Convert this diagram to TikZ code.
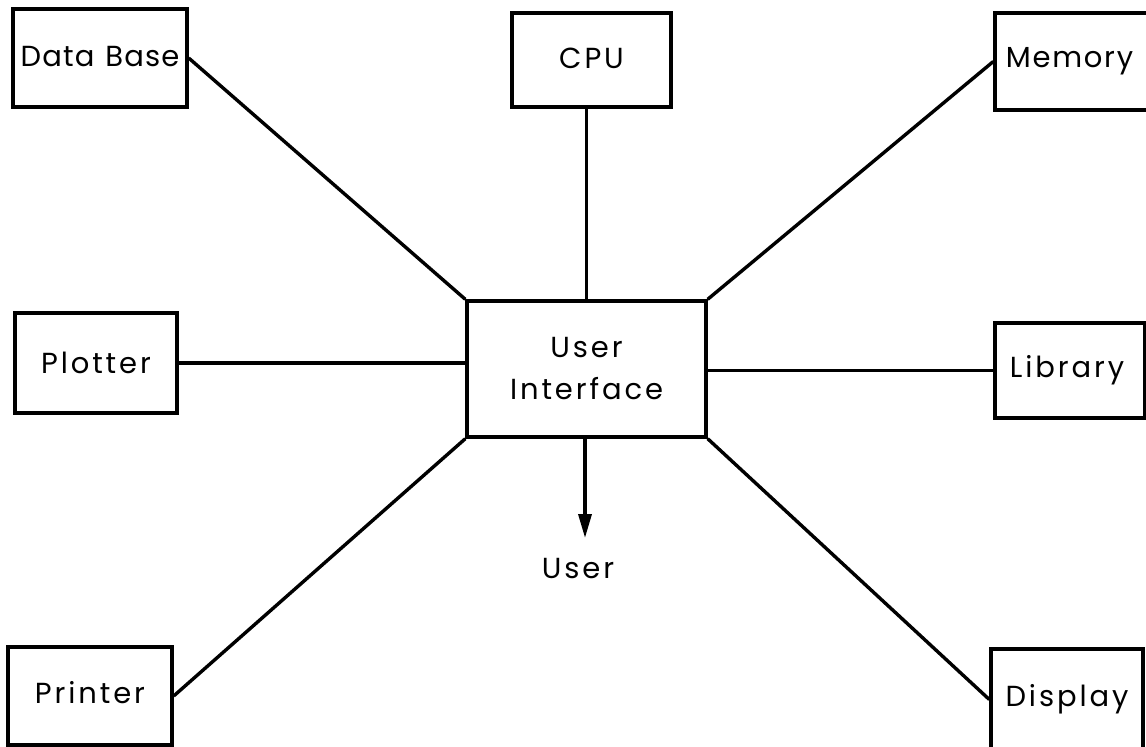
\documentclass[tikz,border=0pt]{standalone}
\usepackage{fontspec}
\newfontfamily\lettering[LetterSpace=10]{Poppins}
\usetikzlibrary{arrows.meta}
\tikzset{
  unit/.style={draw, line width=3.4pt, rectangle, inner sep=0pt, align=center,
    font=\lettering\fontsize{29}{40}\selectfont},
  link/.style={line width=3.4pt},
}
\begin{document}
\begin{tikzpicture}[x=1pt, y=-1pt]
  \useasboundingbox (0,0) rectangle (1146,747);
  \clip (0,0) rectangle (1146,747);

  % central hub
  \node[unit, minimum width=239pt, minimum height=136pt] (ui) at (586.5,369) {User\\[2pt]Interface};

  % surrounding units
  \node[unit, minimum width=174pt, minimum height=98pt]  (db)   at (100,58)     {\raisebox{3pt}{\addfontfeature{LetterSpace=4}Data\hskip 11pt Base}};
  \node[unit, minimum width=159pt, minimum height=94pt]  (cpu)  at (591.5,60)   {\raisebox{4pt}{CPU}};
  \node[unit, minimum width=155pt, minimum height=97pt]  (mem)  at (1072.5,61.5) {\hspace*{-6pt}{\addfontfeature{LetterSpace=6}Memory}};
  \node[unit, minimum width=162pt, minimum height=100pt] (plot) at (96,363)     {Plotter};
  \node[unit, minimum width=150pt, minimum height=95pt]  (lib)  at (1070,370.5) {\hspace*{-6pt}Library};
  \node[unit, minimum width=164pt, minimum height=98pt]  (prn)  at (90,696)     {\raisebox{7pt}{Printer}};
  \node[unit, minimum width=152pt, minimum height=101pt] (disp) at (1067,699.5) {\raisebox{3pt}{Display}};

  % output label and arrow tip
  \node[font=\lettering\fontsize{29}{40}\selectfont] (usr) at (578,569) {User};
  \coordinate (tip) at (585,538);

  % spokes
  \draw[link] (db.east)   -- (ui.north west);
  \draw[link] (cpu.south -| ui.north) -- (ui.north);
  \draw[link] (mem.west)  -- (ui.north east);
  \draw[link] (plot.east) -- (plot.east -| ui.west);
  \draw[link] (lib.west)  -- (lib.west -| ui.east);
  \draw[link] (prn.east)  -- (ui.south west);
  \draw[link] (disp.west) -- (ui.south east);
  \draw[link, -{Triangle[length=24pt, width=13pt]}] (ui.south -| tip) -- (tip);
\end{tikzpicture}
\end{document}
